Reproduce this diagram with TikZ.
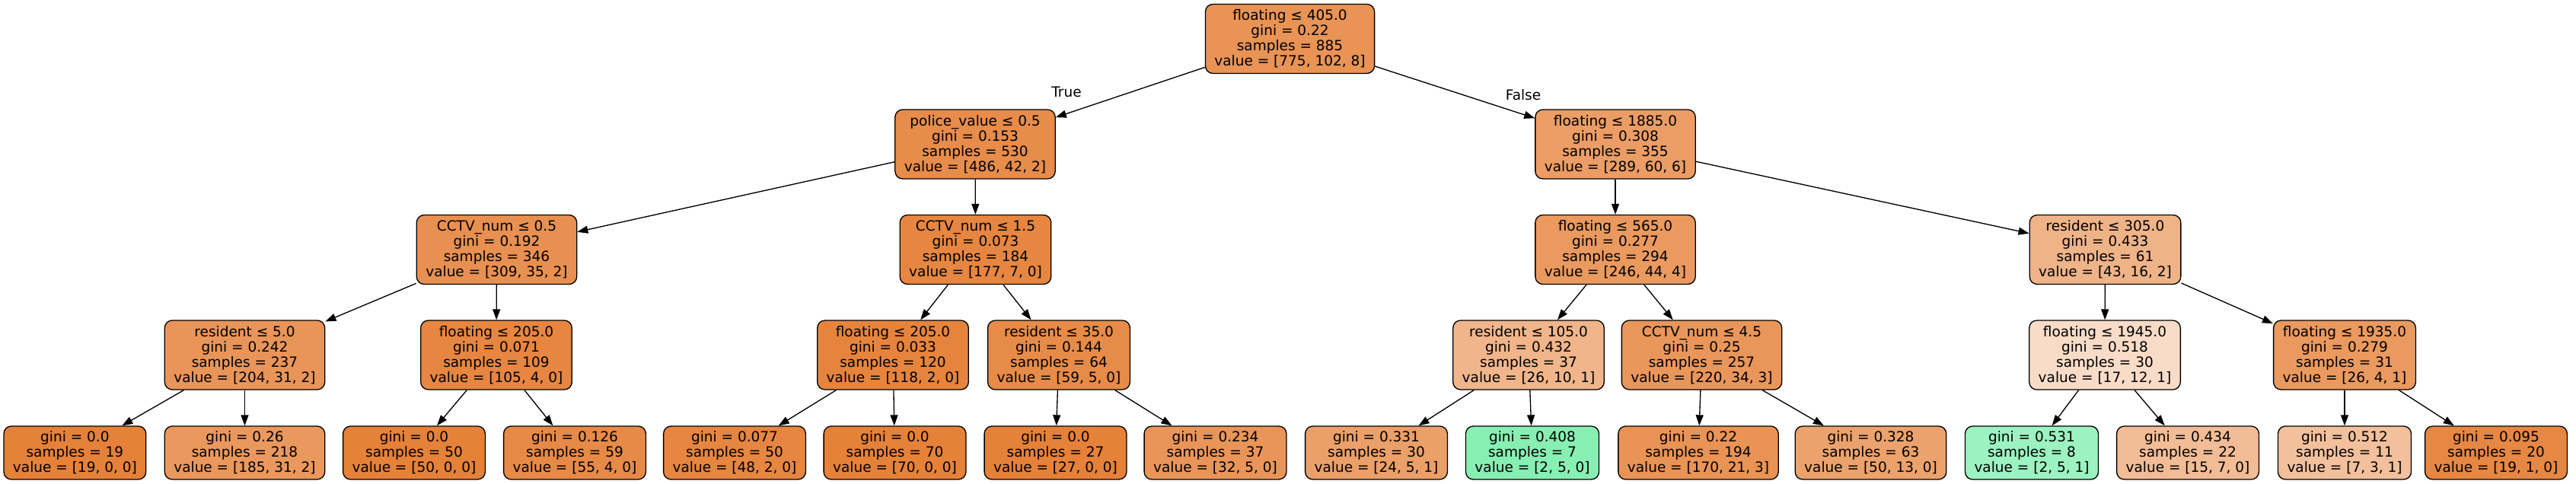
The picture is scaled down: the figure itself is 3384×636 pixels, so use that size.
\documentclass[tikz,border=0pt]{standalone}
\usepackage{fontspec}
\setmainfont{DejaVu Sans}
\usetikzlibrary{arrows.meta}
\definecolor{corange}{RGB}{229,129,57}
\definecolor{cgreen}{RGB}{57,229,129}
\begin{document}
\begin{tikzpicture}[x=1pt,y=-1pt,
  tn/.style={draw=black, line width=1.33pt, rounded corners=10pt, align=center,
    font=\fontsize{18.5}{20}\selectfont, inner xsep=12pt, inner ysep=0pt,
    minimum height=91pt, text=black},
  lf/.style={tn, minimum height=70pt},
  ed/.style={line width=1.33pt, -{Triangle[length=14pt,width=10pt]}},
  lab/.style={font=\fontsize{18.5}{20}\selectfont, inner sep=0pt}]
\path[use as bounding box] (0,0) rectangle (3384,636);
% level 0
\node[tn, fill=corange!86!white] (n0) at (1694.5,51) {floating ≤ 405.0\\gini = 0.22\\samples = 885\\value = [775, 102, 8]};
% level 1
\node[tn, fill=corange!91!white] (n1) at (1281,189.5) {police\_value ≤ 0.5\\gini = 0.153\\samples = 530\\value = [486, 42, 2]};
\node[tn, fill=corange!78!white] (n2) at (2122,189.5) {floating ≤ 1885.0\\gini = 0.308\\samples = 355\\value = [289, 60, 6]};
% level 2
\node[tn, fill=corange!88!white] (n3) at (652.5,328) {CCTV\_num ≤ 0.5\\gini = 0.192\\samples = 346\\value = [309, 35, 2]};
\node[tn, fill=corange!96!white] (n4) at (1281.5,328) {CCTV\_num ≤ 1.5\\gini = 0.073\\samples = 184\\value = [177, 7, 0]};
\node[tn, fill=corange!81!white] (n5) at (2122,328) {floating ≤ 565.0\\gini = 0.277\\samples = 294\\value = [246, 44, 4]};
\node[tn, fill=corange!60!white] (n6) at (2765.5,328) {resident ≤ 305.0\\gini = 0.433\\samples = 61\\value = [43, 16, 2]};
% level 3
\node[tn, fill=corange!84!white] (n7) at (321.5,466.5) {resident ≤ 5.0\\gini = 0.242\\samples = 237\\value = [204, 31, 2]};
\node[tn, fill=corange!96!white] (n8) at (652,466.5) {floating ≤ 205.0\\gini = 0.071\\samples = 109\\value = [105, 4, 0]};
\node[tn, fill=corange!98!white] (n9) at (1173,466.5) {floating ≤ 205.0\\gini = 0.033\\samples = 120\\value = [118, 2, 0]};
\node[tn, fill=corange!92!white] (n10) at (1391,466.5) {resident ≤ 35.0\\gini = 0.144\\samples = 64\\value = [59, 5, 0]};
\node[tn, fill=corange!59!white] (n11) at (2008,466.5) {resident ≤ 105.0\\gini = 0.432\\samples = 37\\value = [26, 10, 1]};
\node[tn, fill=corange!83!white] (n12) at (2235.5,466.5) {CCTV\_num ≤ 4.5\\gini = 0.25\\samples = 257\\value = [220, 34, 3]};
\node[tn, fill=corange!28!white] (n13) at (2765,466.5) {floating ≤ 1945.0\\gini = 0.518\\samples = 30\\value = [17, 12, 1]};
\node[tn, fill=corange!81!white] (n14) at (3080,466.5) {floating ≤ 1935.0\\gini = 0.279\\samples = 31\\value = [26, 4, 1]};
% leaves
\node[lf, fill=corange] (l1) at (98.4,595) {gini = 0.0\\samples = 19\\value = [19, 0, 0]};
\node[lf, fill=corange!82!white] (l2) at (321.5,595) {gini = 0.26\\samples = 218\\value = [185, 31, 2]};
\node[lf, fill=corange] (l3) at (544,595) {gini = 0.0\\samples = 50\\value = [50, 0, 0]};
\node[lf, fill=corange!93!white] (l4) at (755,595) {gini = 0.126\\samples = 59\\value = [55, 4, 0]};
\node[lf, fill=corange!96!white] (l5) at (965,595) {gini = 0.077\\samples = 50\\value = [48, 2, 0]};
\node[lf, fill=corange] (l6) at (1175.5,595) {gini = 0.0\\samples = 70\\value = [70, 0, 0]};
\node[lf, fill=corange] (l7) at (1386.5,595) {gini = 0.0\\samples = 27\\value = [27, 0, 0]};
\node[lf, fill=corange!84!white] (l8) at (1596.5,595) {gini = 0.234\\samples = 37\\value = [32, 5, 0]};
\node[lf, fill=corange!76!white] (l9) at (1808,595) {gini = 0.331\\samples = 30\\value = [24, 5, 1]};
\node[lf, fill=cgreen!60!white] (l10) at (2013,595) {gini = 0.408\\samples = 7\\value = [2, 5, 0]};
\node[lf, fill=corange!86!white] (l11) at (2231,595) {gini = 0.22\\samples = 194\\value = [170, 21, 3]};
\node[lf, fill=corange!74!white] (l12) at (2457.5,595) {gini = 0.328\\samples = 63\\value = [50, 13, 0]};
\node[lf, fill=cgreen!50!white] (l13) at (2669,595) {gini = 0.531\\samples = 8\\value = [2, 5, 1]};
\node[lf, fill=corange!53!white] (l14) at (2874,595) {gini = 0.434\\samples = 22\\value = [15, 7, 0]};
\node[lf, fill=corange!50!white] (l15) at (3080,595) {gini = 0.512\\samples = 11\\value = [7, 3, 1]};
\node[lf, fill=corange!95!white] (l16) at (3279,595) {gini = 0.095\\samples = 20\\value = [19, 1, 0]};
% edges
\draw[ed] (n0) -- (n1);
\draw[ed] (n0) -- (n2);
\draw[ed] (n1) -- (n3);
\draw[ed] (n1) -- (n4);
\draw[ed] (n2) -- (n5);
\draw[ed] (n2) -- (n6);
\draw[ed] (n3) -- (n7);
\draw[ed] (n3) -- (n8);
\draw[ed] (n4) -- (n9);
\draw[ed] (n4) -- (n10);
\draw[ed] (n5) -- (n11);
\draw[ed] (n5) -- (n12);
\draw[ed] (n6) -- (n13);
\draw[ed] (n6) -- (n14);
\draw[ed] (n7) -- (l1);
\draw[ed] (n7) -- (l2);
\draw[ed] (n8) -- (l3);
\draw[ed] (n8) -- (l4);
\draw[ed] (n9) -- (l5);
\draw[ed] (n9) -- (l6);
\draw[ed] (n10) -- (l7);
\draw[ed] (n10) -- (l8);
\draw[ed] (n11) -- (l9);
\draw[ed] (n11) -- (l10);
\draw[ed] (n12) -- (l11);
\draw[ed] (n12) -- (l12);
\draw[ed] (n13) -- (l13);
\draw[ed] (n13) -- (l14);
\draw[ed] (n14) -- (l15);
\draw[ed] (n14) -- (l16);
% edge labels
\node[lab] (tlab) at (1401,121) {True};
\node[lab] (flab) at (2001,125) {False};
\end{tikzpicture}
\end{document}
